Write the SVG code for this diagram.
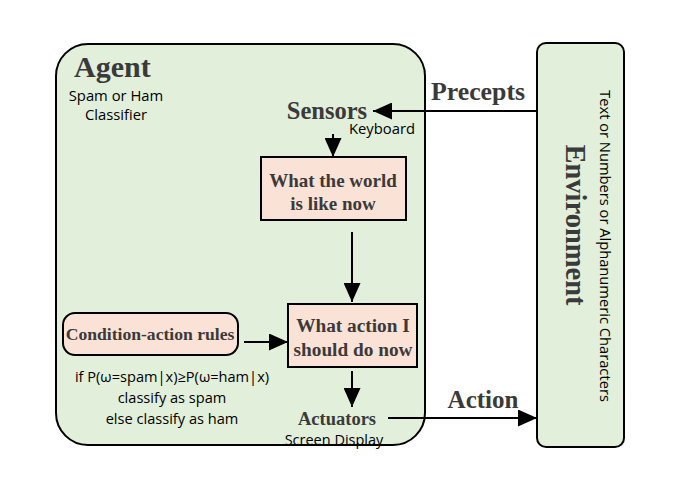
<svg xmlns="http://www.w3.org/2000/svg" width="686" height="486" viewBox="0 0 686 486">
<defs>
<marker id="ah" markerWidth="19" markerHeight="17" refX="10" refY="5" orient="auto" markerUnits="userSpaceOnUse" viewBox="0 0 10 10" preserveAspectRatio="none">
<path d="M0,0 L10,5 L0,10 z" fill="#000"/>
</marker>
<style>
.ser{font-family:"Liberation Serif","DejaVu Serif",serif;font-weight:bold;fill:#3a3a3a}
.san{font-family:"Open Sans","Liberation Sans",sans-serif;fill:#000}
.box{fill:#fbe2d6;stroke:#000;stroke-width:2}
.ln{stroke:#000;stroke-width:2;fill:none}
</style>
</defs>
<rect width="686" height="486" fill="#fff"/>
<g id="agent">
<rect x="56" y="44" width="369" height="401" rx="32" fill="#e2efda" stroke="#000" stroke-width="2"/>
<text class="ser" x="74" y="77" font-size="30">Agent</text>
<text class="san" x="116" y="101" font-size="14.8" text-anchor="middle">Spam or Ham</text>
<text class="san" x="116" y="120" font-size="14.8" text-anchor="middle">Classifier</text>
</g>
<g id="environment">
<rect x="537" y="43" width="87" height="404" rx="9" fill="#e2efda" stroke="#000" stroke-width="2"/>
<text class="ser" transform="translate(566,225) rotate(90)" font-size="28.5" text-anchor="middle">Environment</text>
<text class="san" transform="translate(600,246) rotate(90)" font-size="14.7" text-anchor="middle">Text or Numbers or  Alphanumeric Characters</text>
</g>
<g id="sensors">
<text class="ser" x="327" y="119" font-size="24.5" text-anchor="middle">Sensors</text>
<text class="san" x="382" y="134" font-size="14.8" text-anchor="middle">Keyboard</text>
</g>
<g id="world">
<rect class="box" x="261" y="157" width="145" height="63"/>
<text class="ser" x="333" y="187" font-size="19" text-anchor="middle">What the world</text>
<text class="ser" x="333" y="210" font-size="19" text-anchor="middle">is like now</text>
</g>
<g id="action-box">
<rect class="box" x="288" y="304" width="129" height="63"/>
<text class="ser" x="353" y="332" font-size="19.3" text-anchor="middle">What action I</text>
<text class="ser" x="353" y="356" font-size="19.3" text-anchor="middle">should do now</text>
</g>
<g id="rules">
<rect class="box" x="63" y="313" width="175" height="42" rx="12"/>
<text class="ser" x="150" y="340" font-size="17.6" text-anchor="middle">Condition-action rules</text>
<text class="san" x="172" y="382" font-size="14.6" text-anchor="middle">if P(ω=spam|x)≥P(ω=ham|x)</text>
<text class="san" x="172" y="403" font-size="14.6" text-anchor="middle">classify as spam</text>
<text class="san" x="172" y="424" font-size="14.6" text-anchor="middle">else classify as ham</text>
</g>
<g id="actuators">
<text class="ser" x="337" y="425" font-size="18.5" text-anchor="middle">Actuators</text>
<text class="san" x="334" y="445" font-size="14.5" text-anchor="middle">Screen Display</text>
</g>
<g id="connectors">
<line class="ln" x1="537" y1="111" x2="373" y2="111" marker-end="url(#ah)"/>
<text class="ser" x="478" y="100" font-size="25.8" text-anchor="middle">Precepts</text>
<line class="ln" x1="333" y1="134" x2="333" y2="157" marker-end="url(#ah)"/>
<line class="ln" x1="352" y1="232" x2="352" y2="302" marker-end="url(#ah)"/>
<line class="ln" x1="244" y1="342" x2="288" y2="342" marker-end="url(#ah)"/>
<line class="ln" x1="352" y1="371" x2="352" y2="407" marker-end="url(#ah)"/>
<line class="ln" x1="388" y1="418" x2="537" y2="418" marker-end="url(#ah)"/>
<text class="ser" x="483" y="408" font-size="25" text-anchor="middle">Action</text>
</g>
</svg>
